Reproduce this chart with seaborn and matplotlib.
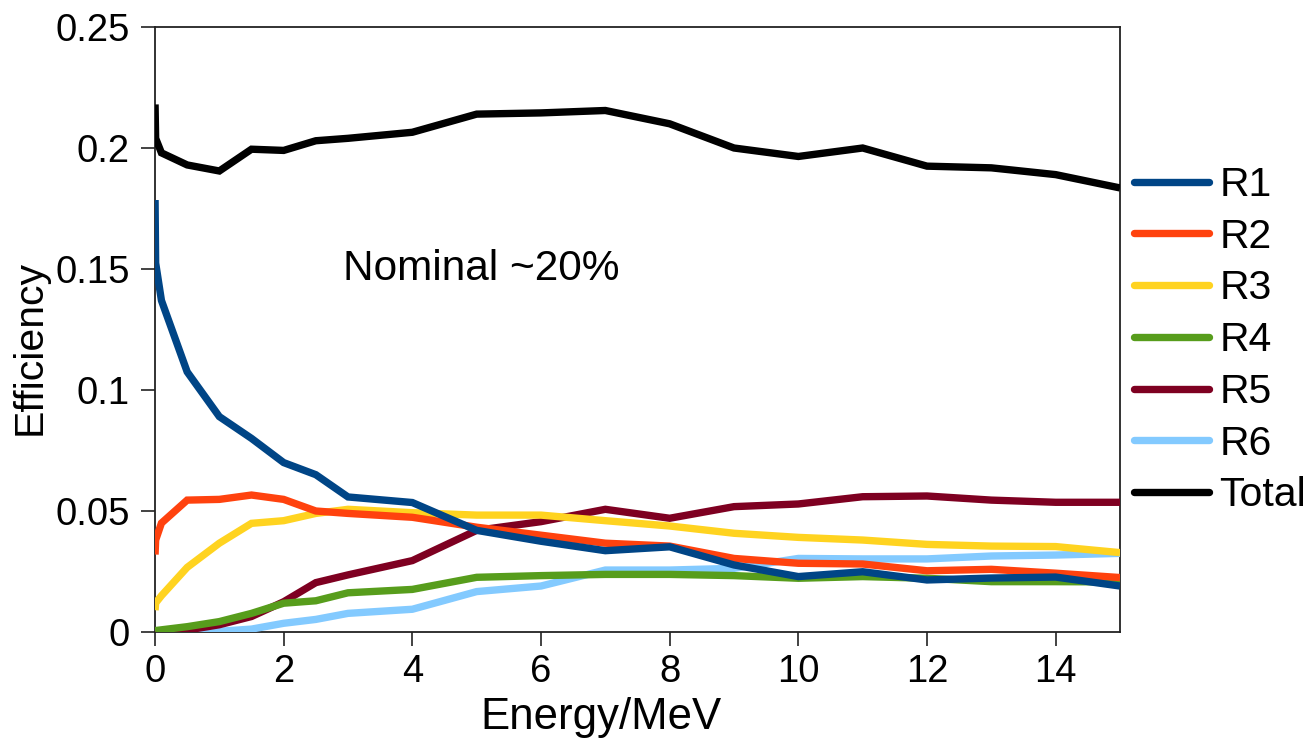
import matplotlib
matplotlib.use("Agg")
import matplotlib.pyplot as plt
import seaborn as sns
import pandas as pd

energy = [0.001, 0.01, 0.1, 0.5, 1, 1.5, 2, 2.5, 3, 4, 5, 6, 7, 8, 9, 10, 11, 12, 13, 14, 15]
r1 = [0.1785, 0.1525, 0.137, 0.1075, 0.089, 0.080, 0.070, 0.065, 0.0558, 0.0535, 0.042, 0.0375,
      0.0336, 0.0352, 0.0277, 0.0229, 0.0249, 0.0215, 0.0223, 0.0227, 0.019]
r2 = [0.032, 0.038, 0.045, 0.0545, 0.0548, 0.0566, 0.0548, 0.050, 0.049, 0.0474, 0.0433, 0.040,
      0.0367, 0.0355, 0.0304, 0.0284, 0.0281, 0.0253, 0.0259, 0.0243, 0.0225]
r3 = [0.009, 0.012, 0.015, 0.0267, 0.0367, 0.0449, 0.046, 0.049, 0.0507, 0.0493, 0.0483, 0.0483,
      0.046, 0.0438, 0.0408, 0.0391, 0.038, 0.0362, 0.0355, 0.0353, 0.0328]
r4 = [0.0005, 0.0006, 0.0009, 0.0022, 0.0043, 0.0077, 0.0119, 0.0129, 0.0162, 0.0176, 0.0226, 0.0233,
      0.0238, 0.0238, 0.0233, 0.0222, 0.0229, 0.0222, 0.0208, 0.0208, 0.0207]
r5 = [0.0, 0.0, 0.0001, 0.0008, 0.003, 0.0064, 0.0125, 0.0204, 0.0236, 0.0295, 0.042, 0.0456,
      0.0507, 0.047, 0.0518, 0.0529, 0.0559, 0.0562, 0.0545, 0.0536, 0.0536]
r6 = [0.0, 0.0, 0.0, 0.0, 0.0003, 0.0012, 0.0036, 0.0052, 0.0077, 0.0094, 0.0167, 0.019,
      0.0256, 0.0256, 0.0263, 0.0304, 0.0302, 0.0302, 0.0314, 0.0318, 0.0325]
total = [0.218, 0.204, 0.198, 0.193, 0.1905, 0.1995, 0.199, 0.203, 0.204, 0.2065, 0.214, 0.2145,
         0.2155, 0.21, 0.2, 0.1965, 0.2, 0.1925, 0.1918, 0.189, 0.1835]

series_names = ["R1", "R2", "R3", "R4", "R5", "R6", "Total"]
series_values = [r1, r2, r3, r4, r5, r6, total]
colors = ["#004586", "#ff420e", "#ffd320", "#579d1c", "#7e0021", "#83caff", "#000000"]

x_ticks = [0, 2, 4, 6, 8, 10, 12, 14]
y_ticks = [0, 0.05, 0.1, 0.15, 0.2, 0.25]
y_tick_labels = ["0", "0.05", "0.1", "0.15", "0.2", "0.25"]

rows = []
for name, vals in zip(series_names, series_values):
    for e, v in zip(energy, vals):
        rows.append({"Energy": e, "Efficiency": v, "Series": name})
df = pd.DataFrame(rows)

sns.set_style("white")
plt.rcParams["font.family"] = ["Liberation Sans", "DejaVu Sans"]
plt.rcParams["text.color"] = "black"
plt.rcParams["axes.labelcolor"] = "black"
plt.rcParams["xtick.color"] = "black"
plt.rcParams["ytick.color"] = "black"

fig = plt.figure(figsize=(13.07, 7.4), dpi=100)
ax = fig.add_axes([155 / 1307, 1 - 632 / 740, (1120 - 155) / 1307, (632 - 27) / 740])

sns.lineplot(data=df, x="Energy", y="Efficiency", hue="Series", hue_order=series_names,
             palette=dict(zip(series_names, colors)), linewidth=5.3, ax=ax, legend=False,
             estimator=None, sort=False)

# Draw order: Total top, then R1 ... R6 bottom
for i, line in enumerate(ax.lines):
    line.set_zorder(10 - i if i < 6 else 20)
    line.set_solid_joinstyle("miter")
    line.set_solid_capstyle("butt")

ax.set_xlim(0, 15)
ax.set_ylim(0, 0.25)
ax.set_xticks(x_ticks)
ax.set_yticks(y_ticks)
ax.set_yticklabels(y_tick_labels)
ax.tick_params(axis="both", which="major", labelsize=27.5, length=10, width=1.2,
               direction="out", color="#222222", labelcolor="black", left=True, bottom=True)
ax.tick_params(axis="x", pad=6)
ax.tick_params(axis="y", pad=8)

for side, sp in ax.spines.items():
    sp.set_visible(True)
    sp.set_color("#222222")
    sp.set_linewidth(1.3)

ax.set_xlabel("Energy/MeV", fontsize=31.5, color="black")
ax.set_ylabel("Efficiency", fontsize=29.5, color="black")
ax.xaxis.set_label_coords(0.462, -0.142)
ax.xaxis.label.set_verticalalignment("center")
ax.yaxis.set_label_coords(-0.1295, 0.47)
ax.yaxis.label.set_verticalalignment("center")

ax.text(2.92, 0.150, "Nominal ~20%", fontsize=30.5, va="center", ha="left", color="black")

handles = [plt.Line2D([], [], color=c, lw=5.3) for c in colors]
leg = fig.legend(handles, series_names, loc="upper left", bbox_to_anchor=(1134 / 1307, 1 - 166 / 740),
                 frameon=False, fontsize=29.5, handlelength=1.83, handletextpad=0.25,
                 labelspacing=0.335, borderpad=0, borderaxespad=0)
for t in leg.get_texts():
    t.set_color("black")

fig.savefig("out.png", dpi=100)
